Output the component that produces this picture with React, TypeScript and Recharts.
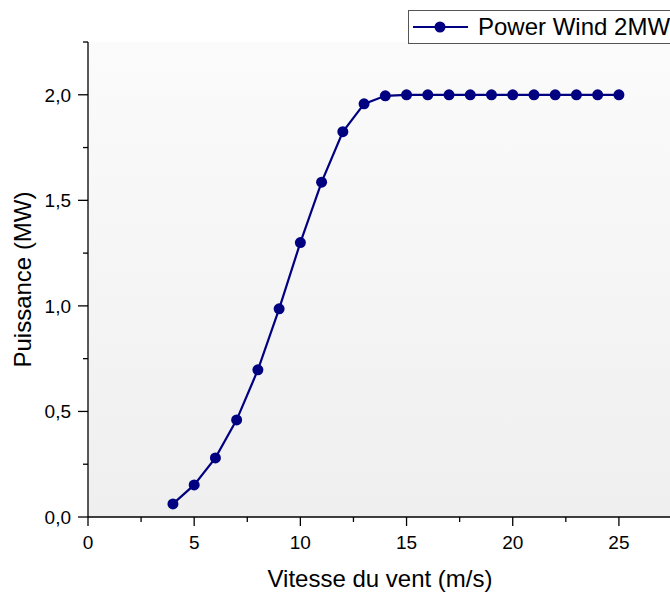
import { CartesianGrid, Legend, Line, LineChart, XAxis, YAxis } from "recharts";

const windSpeed = [4, 5, 6, 7, 8, 9, 10, 11, 12, 13, 14, 15, 16, 17, 18, 19, 20, 21, 22, 23, 24, 25];
const power = [0.062, 0.152, 0.28, 0.46, 0.697, 0.986, 1.3, 1.586, 1.825, 1.957, 1.995, 2.0, 2.0, 2.0, 2.0, 2.0, 2.0, 2.0, 2.0, 2.0, 2.0, 2.0];
const xTicks = [0, 2.5, 5, 7.5, 10, 12.5, 15, 17.5, 20, 22.5, 25, 27.5];
const yTicks = [0, 0.25, 0.5, 0.75, 1, 1.25, 1.5, 1.75, 2, 2.25];
const seriesName = "Power Wind 2MW";

const data = windSpeed.map((v, i) => ({ v, p: power[i] }));

const NAVY = "#000080";
const FONT = "'Liberation Sans', Arial, sans-serif";

function XTick({ x, y, payload }: any) {
  const major = payload.value % 5 === 0;
  return (
    <g>
      <line x1={x} x2={x} y1={y} y2={y + (major ? 9 : 5)} stroke="#000" strokeWidth={1.3} />
      {major && (
        <text x={x} y={y + 32} textAnchor="middle" fontSize={19} fontFamily={FONT} fill="#000">
          {payload.value}
        </text>
      )}
    </g>
  );
}

function YTick({ x, y, payload }: any) {
  const major = Math.abs((payload.value * 2) % 1) < 1e-9;
  return (
    <g>
      <line x1={x} x2={x - (major ? 10 : 5)} y1={y} y2={y} stroke="#000" strokeWidth={1.3} />
      {major && (
        <text x={x - 17} y={y + 7} textAnchor="end" fontSize={19} fontFamily={FONT} fill="#000">
          {payload.value.toFixed(1).replace(".", ",")}
        </text>
      )}
    </g>
  );
}

function LegendBox() {
  return (
    <div
      style={{
        width: 290,
        height: 32,
        border: "1px solid #555",
        background: "#fff",
        display: "flex",
        alignItems: "center",
        fontFamily: FONT,
        fontSize: 24,
        whiteSpace: "nowrap",
      }}
    >
      <svg width={66} height={20} style={{ marginLeft: 3 }}>
        <line x1={1} x2={56} y1={10} y2={10} stroke={NAVY} strokeWidth={2} />
        <circle cx={28} cy={10} r={5.5} fill={NAVY} />
      </svg>
      <span>{seriesName}</span>
    </div>
  );
}

export default function App() {
  return (
    <div style={{ position: "absolute", left: 0, top: 0, width: 670, height: 594, overflow: "hidden", background: "#fff" }}>
      <LineChart width={672} height={594} data={data} margin={{ top: 42, right: 0, left: 0, bottom: 0 }}>
        <defs>
          <linearGradient id="plotBg" x1="0" y1="0" x2="0" y2="1">
            <stop offset="0%" stopColor="#fbfbfb" />
            <stop offset="100%" stopColor="#efefef" />
          </linearGradient>
        </defs>
        <CartesianGrid horizontal={false} vertical={false} fill="url(#plotBg)" fillOpacity={1} />
        <XAxis
          dataKey="v"
          type="number"
          domain={[0, 27.5]}
          ticks={xTicks}
          interval={0}
          height={77}
          tickSize={0}
          tickMargin={0}
          tick={<XTick />}
          axisLine={{ stroke: "#000", strokeWidth: 1.3 }}
          label={{ value: "Vitesse du vent (m/s)", position: "insideBottom", offset: 7, fontSize: 24, fontFamily: FONT, fill: "#000" }}
        />
        <YAxis
          type="number"
          domain={[0, 2.25]}
          ticks={yTicks}
          interval={0}
          width={88}
          tickSize={0}
          tickMargin={0}
          tick={<YTick />}
          axisLine={{ stroke: "#000", strokeWidth: 1.3 }}
          label={{ value: "Puissance (MW)", angle: -90, position: "insideLeft", offset: 22, fontSize: 24, fontFamily: FONT, fill: "#000", style: { textAnchor: "middle" } }}
        />
        <Legend
          content={<LegendBox />}
          layout="horizontal"
          align="center"
          verticalAlign="middle"
          wrapperStyle={{ top: 10, left: 408, width: 292 }}
        />
        <Line
          dataKey="p"
          name={seriesName}
          stroke={NAVY}
          strokeWidth={2.2}
          dot={{ r: 5.5, fill: NAVY, stroke: NAVY, strokeWidth: 0 }}
          activeDot={false}
          isAnimationActive={false}
        />
      </LineChart>
    </div>
  );
}
